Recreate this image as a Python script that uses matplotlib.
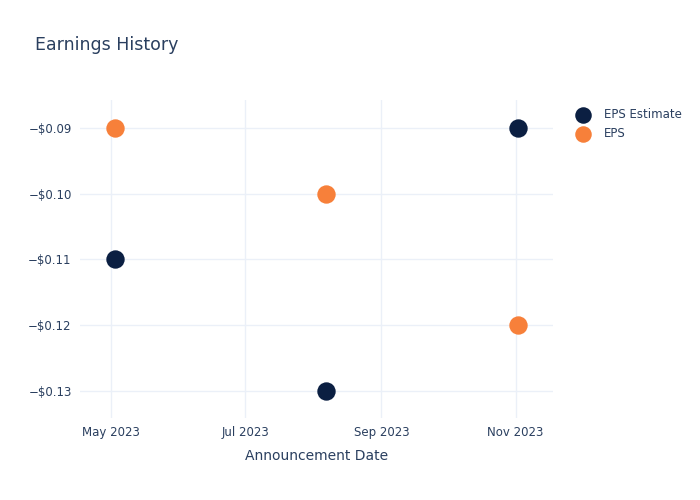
import matplotlib.pyplot as plt
import matplotlib.dates as mdates
import numpy as np
from datetime import datetime

# announcement dates and EPS values
dates = [datetime(2023, 5, 3), datetime(2023, 8, 7), datetime(2023, 11, 2)]
eps_estimate = [-0.11, -0.13, -0.09]
eps_actual = [-0.09, -0.10, -0.12]

TEXT = '#2a3f5f'
GRID = '#ebf0f8'

plt.rcParams['font.family'] = ['DejaVu Sans']

fig = plt.figure(figsize=(7, 5), dpi=100)
ax = fig.add_axes([80 / 700, 82 / 500, 473 / 700, 318 / 500])

ax.scatter(dates, eps_estimate, s=175, color='#0b1f42', label='EPS Estimate', zorder=3, linewidths=0)
ax.scatter(dates, eps_actual, s=175, color='#f7803a', label='EPS', zorder=3, linewidths=0)

ax.set_xlim(datetime(2023, 4, 17), datetime(2023, 11, 18))
ax.set_ylim(-0.13411, -0.08574)

ax.xaxis.set_major_locator(mdates.MonthLocator(bymonth=[5, 7, 9, 11]))
ax.xaxis.set_major_formatter(mdates.DateFormatter('%b %Y'))
ax.set_yticks([-0.13, -0.12, -0.11, -0.10, -0.09])
ax.set_yticklabels(['\u2212$%.2f' % abs(v) for v in [-0.13, -0.12, -0.11, -0.10, -0.09]])

ax.grid(True, color=GRID, linewidth=1)
ax.set_axisbelow(True)
for sp in ax.spines.values():
    sp.set_visible(False)
ax.tick_params(length=0, colors=TEXT, labelsize=8.5, pad=6)

ax.set_xlabel('Announcement Date', color=TEXT, fontsize=10, labelpad=7)
fig.text(35 / 700, 1 - 45 / 500, 'Earnings History', color=TEXT, fontsize=12.5, va='center')

leg = ax.legend(loc='upper left', bbox_to_anchor=(571 / 700, 1 - 108 / 500),
                bbox_transform=fig.transFigure, frameon=False,
                fontsize=8.5, labelcolor=TEXT, handletextpad=0.8, labelspacing=0.55,
                markerscale=0.9, borderpad=0, borderaxespad=0)

fig.savefig('out.png', dpi=100, facecolor='white')
